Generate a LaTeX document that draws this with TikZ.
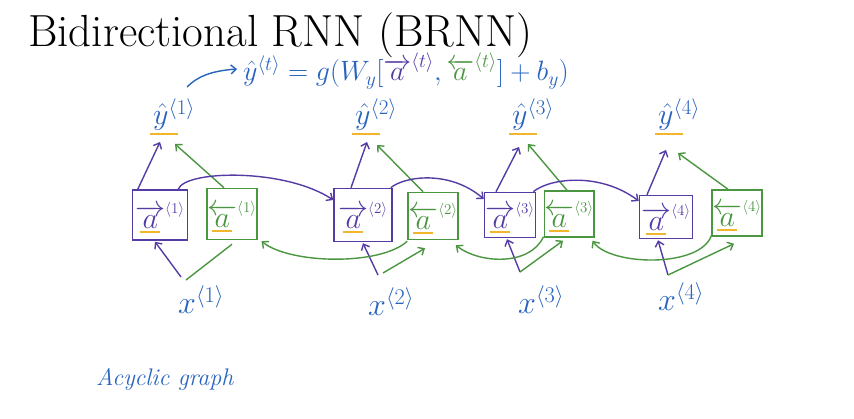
\RequirePackage{fix-cm}
\documentclass[tikz,border=0pt]{standalone}
\usepackage{fontspec}
\usetikzlibrary{arrows.meta}
\definecolor{pur}{RGB}{85,60,165}
\definecolor{grn}{RGB}{75,150,65}
\definecolor{blu}{RGB}{40,100,190}
\definecolor{org}{RGB}{242,182,45}
\newcommand{\fa}[1]{$\overrightarrow{a}^{\scriptscriptstyle\langle #1\rangle}$}
\newcommand{\ba}[1]{$\overleftarrow{a}^{\scriptscriptstyle\langle #1\rangle}$}
\begin{document}
\begin{tikzpicture}[x=1pt,y=-1pt,
  fwd/.style={draw=pur, line width=1.5pt, text=pur, inner sep=0pt, font=\fontsize{30}{34}\selectfont},
  bwd/.style={draw=grn, line width=1.5pt, text=grn, inner sep=0pt, font=\fontsize{30}{34}\selectfont},
  lbl/.style={text=blu, inner sep=0pt, anchor=base west, font=\fontsize{30}{34}\selectfont},
  xlbl/.style={text=blu, inner sep=0pt, anchor=base west, font=\fontsize{32}{38}\selectfont},
  tip/.style={-{Straight Barb[length=5pt,width=9pt]}},
  parr/.style={pur, line width=1.4pt, tip},
  garr/.style={grn, line width=1.4pt, tip},
  gline/.style={grn, line width=1.4pt},
  uline/.style={org, line width=1.8pt}]
\useasboundingbox (0,0) rectangle (854,419);
\fill[white] (0,0) rectangle (854,419);

% title
\node[anchor=base west, inner sep=0pt, font=\fontsize{45}{54}\selectfont] (title) at (28,47) {Bidirectional RNN (BRNN)};

% formula
\node[anchor=base west, inner sep=0pt, text=blu, font=\fontsize{28}{33}\selectfont] (formula) at (243,81)
  {$\hat{y}^{\langle t\rangle} = g(W_y[\textcolor{pur}{\overrightarrow{a}^{\langle t\rangle}},\textcolor{grn}{\overleftarrow{a}^{\langle t\rangle}}] + b_y)$};
\coordinate (fa) at (187,87);
\draw[blu, line width=1.4pt, tip] (fa) .. controls (197,77) and (210,71) .. ([shift={(-6,-12)}]formula.base west);

% forward boxes
\node[fwd, minimum width=55pt, minimum height=50pt] (f1) at (160,215) {\fa{1}};
\node[fwd, minimum width=58pt, minimum height=53pt] (f2) at (363,215) {\fa{2}};
\node[fwd, minimum width=51pt, minimum height=45pt] (f3) at (510,215) {\fa{3}};
\node[fwd, minimum width=53pt, minimum height=43pt] (f4) at (666,217) {\fa{4}};
% backward boxes
\node[bwd, minimum width=47pt, minimum height=51pt] (b1) at (232,214) {\ba{1}};
\node[bwd, minimum width=50pt, minimum height=47pt] (b2) at (433,216) {\ba{2}};
\node[bwd, minimum width=46pt, minimum height=46pt] (b3) at (569,214) {\ba{3}};
\node[bwd, minimum width=50pt, minimum height=46pt] (b4) at (737,213) {\ba{4}};

% orange underlines in boxes
\foreach \n in {f1,f2,f3,f4,b1,b2,b3,b4}
  \draw[uline] ([shift={(-20,17)}]\n.center) -- ++(20,0);

% y hats
\node[lbl] (y1) at (153,125) {$\hat{y}^{\langle 1\rangle}$};
\node[lbl] (y2) at (355,125) {$\hat{y}^{\langle 2\rangle}$};
\node[lbl] (y3) at (512,125) {$\hat{y}^{\langle 3\rangle}$};
\node[lbl] (y4) at (658,125) {$\hat{y}^{\langle 4\rangle}$};
\foreach \n in {y1,y2,y3,y4}
  \draw[uline] ([shift={(-3,9)}]\n.base west) -- ++(28,0);

% x labels
\node[xlbl] (x1) at (178,314) {$x^{\langle 1\rangle}$};
\node[xlbl] (x2) at (368,316) {$x^{\langle 2\rangle}$};
\node[xlbl] (x3) at (518,314) {$x^{\langle 3\rangle}$};
\node[xlbl] (x4) at (658,311) {$x^{\langle 4\rangle}$};

% boxes -> y hats
\draw[parr] ([xshift=6pt]f1.north west) -- ([shift={(7,17)}]y1.base west);
\draw[garr] ([xshift=-8pt]b1.north) -- ([shift={(22,19)}]y1.base west);
\draw[parr] ([xshift=-12pt]f2.north) -- ([shift={(12,17)}]y2.base west);
\draw[garr] ([xshift=-10pt]b2.north) -- ([shift={(22,20)}]y2.base west);
\draw[parr] ([xshift=-14pt]f3.north) -- ([shift={(7,22)}]y3.base west);
\draw[garr] ([xshift=-2pt]b3.north) -- ([shift={(16,19)}]y3.base west);
\draw[parr] ([xshift=-19pt]f4.north) -- ([shift={(8,25)}]y4.base west);
\draw[garr] ([xshift=-9pt]b4.north) -- ([shift={(20,28)}]y4.base west);

% x -> boxes
\coordinate (p1) at (181,277);
\coordinate (p2) at (378,275);
\coordinate (p3) at (520,272);
\coordinate (p4) at (668,275);
\draw[parr] (p1) -- ([xshift=-5pt,yshift=-1pt]f1.south);
\draw[gline] ([xshift=5pt,yshift=-3pt]p1) -- ([yshift=-4pt]b1.south);
\draw[parr] (p2) -- ([yshift=-1pt]f2.south);
\draw[garr] ([xshift=5pt,yshift=2pt]p2) -- ([xshift=-8pt,yshift=-8pt]b2.south);
\draw[parr] (p3) -- ([xshift=-3pt,yshift=-1pt]f3.south);
\draw[garr] (p3) -- ([xshift=-6pt,yshift=-3pt]b3.south);
\draw[parr] (p4) -- ([xshift=-8pt,yshift=-1pt]f4.south);
\draw[garr] (p4) -- ([xshift=-3pt,yshift=-7pt]b4.south);

% forward recurrence
\draw[parr] ([xshift=-10pt]f1.north east) .. controls (185,170) and (285,168) .. ([yshift=15pt]f2.west);
\draw[parr] ([xshift=-2pt]f2.north east) .. controls (405,176) and (450,170) .. ([yshift=16pt]f3.west);
\draw[parr] ([xshift=-3pt]f3.north east) .. controls (550,178) and (600,172) .. ([yshift=16pt]f4.west);

% backward recurrence
\draw[garr] ([yshift=-1pt]b2.south west) .. controls (380,266) and (290,264) .. ([shift={(4,1)}]b1.south east);
\draw[garr] ([yshift=1pt]b3.south west) .. controls (530,266) and (480,264) .. ([shift={(-3,5)}]b2.south east);
\draw[garr] ([yshift=1pt]b4.south west) .. controls (700,268) and (610,266) .. ([shift={(-2,3)}]b3.south east);

% note
\node[anchor=base west, inner sep=0pt, text=blu, font=\fontsize{24}{28}\selectfont\itshape] (note) at (96,386) {Acyclic graph};
\end{tikzpicture}
\end{document}
